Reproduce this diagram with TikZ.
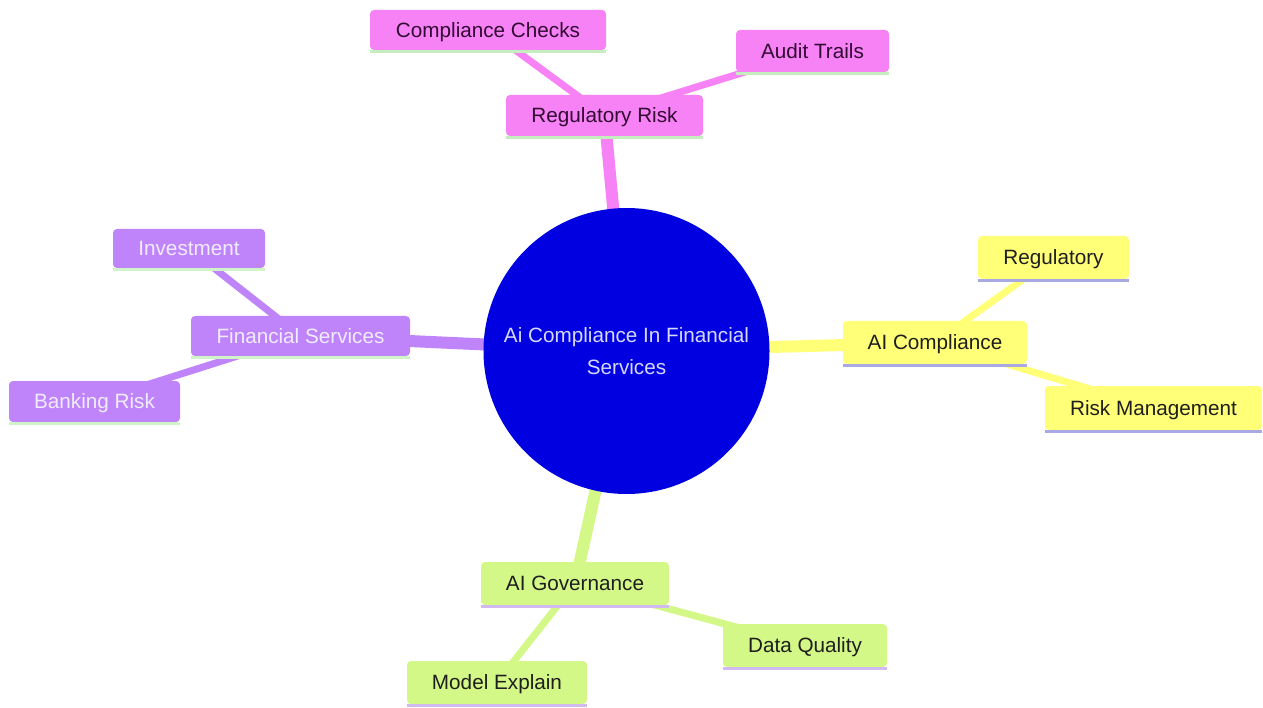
\documentclass[tikz,border=0pt]{standalone}
\usepackage{fontspec}
\setmainfont{Liberation Sans}
\usetikzlibrary{backgrounds}
\definecolor{pinkc}{RGB}{246,130,246}
\definecolor{yelc}{RGB}{255,255,120}
\definecolor{grnc}{RGB}{212,248,135}
\definecolor{purc}{RGB}{192,132,250}
\definecolor{bluec}{RGB}{0,0,224}
\definecolor{pinkline}{RGB}{196,238,190}
\definecolor{yelline}{RGB}{168,168,226}
\definecolor{grnline}{RGB}{208,186,240}
\definecolor{purline}{RGB}{206,244,200}
\definecolor{pinktext}{RGB}{50,10,50}
\definecolor{darktext}{RGB}{30,30,30}
\definecolor{lighttext}{RGB}{240,236,255}
\definecolor{centertext}{RGB}{215,215,255}
\tikzset{
  box/.style={rounded corners=4pt, inner sep=0pt, text height=14.8pt, text depth=0pt,
              font=\fontsize{20.7}{24}\selectfont},
  pinkbox/.style={box, fill=pinkc, text=pinktext},
  yelbox/.style={box, fill=yelc, text=darktext},
  grnbox/.style={box, fill=grnc, text=darktext},
  purbox/.style={box, fill=purc, text=lighttext},
  edgeA/.style={line width=12pt},
  edgeB/.style={line width=7pt},
  underline/.style={line width=3pt}
}
\begin{document}
\begin{tikzpicture}[x=1pt,y=-1pt]
\useasboundingbox (0,0) rectangle (1263,708);
% center
\node[circle, fill=bluec, minimum size=286pt, inner sep=0pt, align=center, text=centertext,
      font=\fontsize{20.7}{32}\selectfont] (root) at (626.5,351) {Ai Compliance In Financial\\Services};
% pink branch
\node[pinkbox, minimum width=197pt, minimum height=41pt] (rr) at (604.5,115.5) {Regulatory Risk};
\node[pinkbox, minimum width=236pt, minimum height=40pt] (cc) at (488,30) {Compliance Checks};
\node[pinkbox, minimum width=153pt, minimum height=42pt] (at) at (812.5,51) {Audit Trails};
% yellow branch
\node[yelbox, minimum width=184pt, minimum height=43pt] (aic) at (935,342.5) {AI Compliance};
\node[yelbox, minimum width=151pt, minimum height=43pt] (reg) at (1053.5,257.5) {Regulatory};
\node[yelbox, minimum width=217pt, minimum height=44pt] (rm) at (1153.5,408) {Risk Management};
% green branch
\node[grnbox, minimum width=188pt, minimum height=43pt] (aig) at (575,583.5) {AI Governance};
\node[grnbox, minimum width=164pt, minimum height=43pt] (dq) at (805,645.5) {Data Quality};
\node[grnbox, minimum width=180pt, minimum height=43pt] (me) at (497,682.5) {Model Explain};
% purple branch
\node[purbox, minimum width=219pt, minimum height=40pt] (fs) at (300.5,336) {Financial Services};
\node[purbox, minimum width=152pt, minimum height=39pt] (inv) at (189,248.5) {Investment};
\node[purbox, minimum width=171pt, minimum height=41pt] (br) at (94.5,401.5) {Banking Risk};
% underlines
\foreach \n in {rr,cc,at}{\draw[underline, draw=pinkline] ([yshift=-1.5pt]\n.south west) -- ([yshift=-1.5pt]\n.south east);}
\foreach \n in {aic,reg,rm}{\draw[underline, draw=yelline] ([yshift=-1.5pt]\n.south west) -- ([yshift=-1.5pt]\n.south east);}
\foreach \n in {aig,dq,me}{\draw[underline, draw=grnline] ([yshift=-1.5pt]\n.south west) -- ([yshift=-1.5pt]\n.south east);}
\foreach \n in {fs,inv,br}{\draw[underline, draw=purline] ([yshift=-1.5pt]\n.south west) -- ([yshift=-1.5pt]\n.south east);}
% edges
\begin{scope}[on background layer]
\fill[white] (0,0) rectangle (1263,708);
\draw[edgeA, pinkc] (root.center) -- (rr.center);
\draw[edgeB, pinkc] (rr.center) -- (cc.center);
\draw[edgeB, pinkc] (rr.center) -- (at.center);
\draw[edgeA, yelc] (root.center) -- (aic.center);
\draw[edgeB, yelc] (aic.center) -- (reg.center);
\draw[edgeB, yelc] (aic.center) -- (rm.center);
\draw[edgeA, grnc] (root.center) -- (aig.center);
\draw[edgeB, grnc] (aig.center) -- (dq.center);
\draw[edgeB, grnc] (aig.center) -- (me.center);
\draw[edgeA, purc] (root.center) -- (fs.center);
\draw[edgeB, purc] (fs.center) -- (inv.center);
\draw[edgeB, purc] (fs.center) -- (br.center);
\end{scope}
\end{tikzpicture}
\end{document}
